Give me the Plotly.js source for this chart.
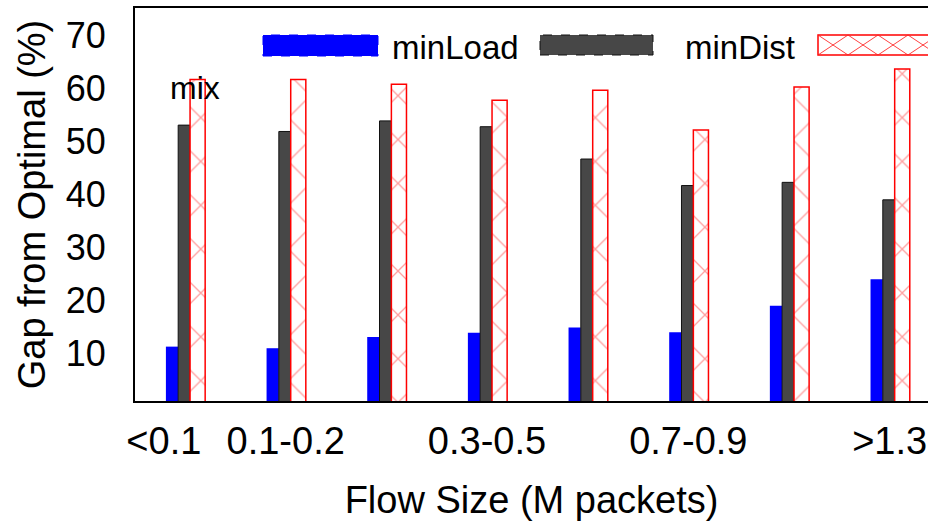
<!DOCTYPE html>
<html>
<head>
<meta charset="utf-8">
<script src="https://cdn.plot.ly/plotly-3.0.1.min.js"></script>
<style>html,body{margin:0;padding:0;background:#fff;}#chart{width:928px;height:521px;}</style>
</head>
<body>
<div id="chart"></div>
<script>
// ---- data ----
const categories = ['<0.1', '0.1-0.2', '0.2-0.3', '0.3-0.5', '0.5-0.7', '0.7-0.9', '0.9-1.3', '>1.3'];
const minLoad = [11.2, 10.9, 13.0, 13.8, 14.8, 13.9, 18.9, 23.9];
const minDist = [53.0, 51.8, 53.8, 52.7, 46.6, 41.6, 42.2, 38.9];
const mix     = [61.6, 61.6, 60.7, 57.7, 59.6, 52.1, 60.2, 63.6];
const tickLabels = ['<0.1', '0.1-0.2', '0.3-0.5', '0.7-0.9', '>1.3'];
const yTicks = [10, 20, 30, 40, 50, 60, 70];

// ---- layout helpers ----
const W = 928, H = 521, ML = 135, MR = 0, MT = 8, MB = 120;
const PW = W - ML - MR, PH = H - MT - MB;
const px = x => (x - ML) / PW;          // pixel -> paper x
const py = y => (H - MB - y) / PH;      // pixel -> paper y
const tickPos = [-0.21, 1, 3, 5, 7];
const xIdx = categories.map((_, i) => i);
const FONT = 'Liberation Sans, Arial, Helvetica, sans-serif';
const HATCH = 'rgba(255,30,30,0.85)';

const traces = [
  { type: 'bar', name: 'minLoad', x: xIdx, y: minLoad, offset: -0.19, width: 0.122,
    marker: { color: '#0000ff', line: { color: '#0000ff', width: 0 } }, showlegend: false },
  { type: 'bar', name: 'minDist', x: xIdx, y: minDist, offset: -0.068, width: 0.118,
    marker: { color: '#474747', line: { color: '#111111', width: 1 } }, showlegend: false },
  { type: 'bar', name: 'mix', x: xIdx, y: mix, offset: 0.05, width: 0.15,
    marker: { color: '#ffffff', line: { color: '#ff0000', width: 1.5 },
      pattern: { shape: 'x', size: 31, solidity: 0.085, fgcolor: HATCH, bgcolor: '#ffffff', fillmode: 'overlay' } },
    showlegend: false }
];

// legend drawn as shapes + annotations
const shapes = [
  { type: 'rect', xref: 'paper', yref: 'paper', x0: px(263), x1: px(378), y0: py(56), y1: py(35),
    fillcolor: '#0000ff', line: { color: '#0000ff', width: 1, dash: 'dash' } },
  { type: 'rect', xref: 'paper', yref: 'paper', x0: px(540), x1: px(653), y0: py(55), y1: py(35),
    fillcolor: '#474747', line: { color: '#111111', width: 1, dash: 'dash' } },
  { type: 'rect', xref: 'paper', yref: 'paper', x0: px(818), x1: px(940), y0: py(55), y1: py(35),
    fillcolor: '#ffffff', line: { color: '#ff0000', width: 1.5 } }
];
let hatch = '';
for (let k = 0; k < 4; k++) {
  const a = 818 + 30 * k, b = a + 30;
  hatch += `M${px(a)},${py(35)}L${px(b)},${py(55)}M${px(b)},${py(35)}L${px(a)},${py(55)}`;
}
shapes.push({ type: 'path', xref: 'paper', yref: 'paper', path: hatch,
  line: { color: HATCH, width: 1 } });

const annotations = [
  { text: 'minLoad', xref: 'paper', yref: 'paper', x: px(390), y: py(47), xanchor: 'left', yanchor: 'middle',
    showarrow: false, font: { family: FONT, size: 33, color: '#000' } },
  { text: 'minDist', xref: 'paper', yref: 'paper', x: px(683), y: py(47), xanchor: 'left', yanchor: 'middle',
    showarrow: false, font: { family: FONT, size: 33, color: '#000' } },
  { text: 'mix', xref: 'paper', yref: 'paper', x: px(194.5), y: py(88), xanchor: 'center', yanchor: 'middle',
    showarrow: false, font: { family: FONT, size: 32, color: '#000' } }
];

const layout = {
  width: W, height: H,
  margin: { l: ML, r: MR, t: MT, b: MB, pad: 0 },
  paper_bgcolor: '#ffffff', plot_bgcolor: '#ffffff',
  barmode: 'overlay',
  showlegend: false,
  font: { family: FONT, color: '#000' },
  xaxis: {
    range: [-0.497, 7.381], tickvals: tickPos, ticktext: tickLabels,
    showgrid: false, zeroline: false, showline: true, mirror: true, linecolor: '#000', linewidth: 2,
    ticks: '', ticklabelstandoff: 5, tickfont: { family: FONT, size: 38, color: '#000' },
    title: { text: 'Flow Size (M packets)', font: { family: FONT, size: 38, color: '#000' }, standoff: 34 }
  },
  yaxis: {
    range: [0.94, 75.1], tickvals: yTicks,
    showgrid: false, zeroline: false, showline: true, linecolor: '#000', linewidth: 2,
    ticks: '', ticklabelstandoff: 20, tickfont: { family: FONT, size: 36, color: '#000' },
    title: { text: 'Gap from Optimal (%)', font: { family: FONT, size: 38, color: '#000' }, standoff: 8 }
  },
  shapes: shapes,
  annotations: annotations
};

Plotly.newPlot('chart', traces, layout, { staticPlot: true, displayModeBar: false });
</script>
</body>
</html>
